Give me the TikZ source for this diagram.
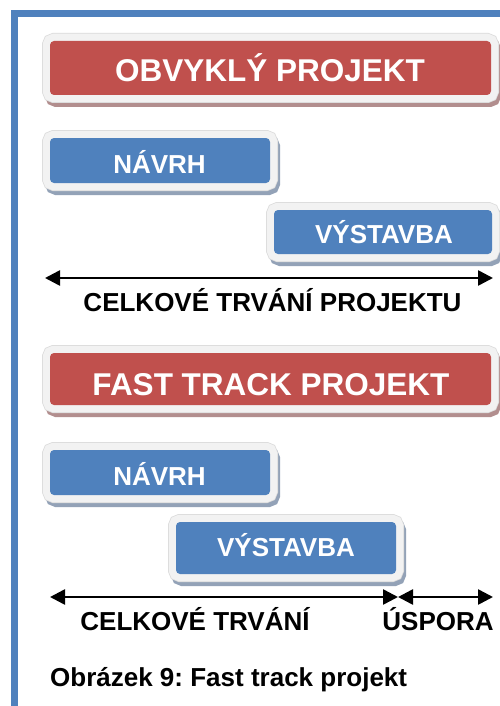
\documentclass[tikz,border=0pt]{standalone}
\usepackage{fontspec}
\setmainfont{Liberation Sans}
\usetikzlibrary{arrows.meta}
\frenchspacing

\definecolor{frameblue}{HTML}{4F81BD}
\definecolor{boxred}{HTML}{C0504D}
\definecolor{boxblue}{HTML}{4F81BD}
\definecolor{rimgray}{HTML}{F2F2F2}
\definecolor{rimedge}{HTML}{DADADA}
\definecolor{redshade}{HTML}{B28E8E}
\definecolor{blueshade}{HTML}{93A2B7}

\tikzset{
  % coloured bar with a light rim and a small drop shadow below right
  barbox/.style 2 args={
    rectangle, rounded corners=4pt, inner sep=0pt, outer sep=0pt,
    fill=#1,
    preaction={draw=#2, fill=#2, line width=15pt,
               transform canvas={shift={(2.5pt,-4.5pt)}}},
    preaction={draw=rimedge, line width=16pt},
    preaction={draw=rimgray, line width=14.5pt}
  },
  redbar/.style={barbox={boxred}{redshade}},
  bluebar/.style={barbox={boxblue}{blueshade}},
  titletext/.style={anchor=base, text=white, font=\fontsize{31.5}{36}\selectfont\bfseries, inner sep=0pt},
  bartext/.style={anchor=base, text=white, font=\fontsize{26}{30}\selectfont\bfseries, inner sep=0pt},
  labeltext/.style={anchor=base, text=black, font=\fontsize{26}{30}\selectfont\bfseries, inner sep=0pt},
  span/.style={line width=2.6pt, {Triangle[length=15pt,width=15pt]}-{Triangle[length=15pt,width=15pt]}}
}

\begin{document}
\begin{tikzpicture}[x=1pt,y=-1pt]
  \useasboundingbox (0,0) rectangle (500,706);

  % page frame, left and top edges
  \draw[frameblue, line width=7pt, line join=miter] (14.5,706) -- (14.5,13.5) -- (500,13.5);

  % conventional project
  \node[redbar, minimum width=441pt, minimum height=54pt] (obvBox) at (270.5,68) {};
  \node[titletext] (obvText) at (270,82) {OBVYKLÝ PROJEKT};

  \node[bluebar, minimum width=220pt, minimum height=45pt] (navrhA) at (160,160.5) {};
  \node[bartext] (navrhAText) at (159.5,173.3) {NÁVRH};

  \node[bluebar, minimum width=218pt, minimum height=44pt] (vystA) at (383,232) {};
  \node[bartext] (vystAText) at (384,243.3) {VÝSTAVBA};

  \coordinate (spanAL) at (45,278);
  \coordinate (spanAR) at (493,278);
  \draw[span] (spanAL) -- (spanAR);
  \node[labeltext] (spanAText) at (272.5,311.5) {CELKOVÉ TRVÁNÍ PROJEKTU};

  % fast track project
  \node[redbar, minimum width=441pt, minimum height=52pt] (fastBox) at (270.5,379) {};
  \node[titletext] (fastText) at (271,395) {FAST TRACK PROJEKT};

  \node[bluebar, minimum width=220pt, minimum height=45pt] (navrhB) at (160,472.5) {};
  \node[bartext] (navrhBText) at (159.5,485) {NÁVRH};

  \node[bluebar, minimum width=220pt, minimum height=52pt] (vystB) at (286,548) {};
  \node[bartext] (vystBText) at (286,556.7) {VÝSTAVBA};

  \coordinate (spanBL) at (50,597);
  \coordinate (spanBM) at (398,597);
  \coordinate (spanBR) at (493,597);
  \draw[span] (spanBL) -- (spanBM);
  \draw[span] (spanBM) -- (spanBR);
  \node[labeltext] (spanBText) at (195,630) {CELKOVÉ TRVÁNÍ};
  \node[labeltext] (savingText) at (438,630) {ÚSPORA};

  % caption
  \node[labeltext, anchor=base west] (caption) at (50,686) {Obrázek 9: Fast track projekt};
\end{tikzpicture}
\end{document}
